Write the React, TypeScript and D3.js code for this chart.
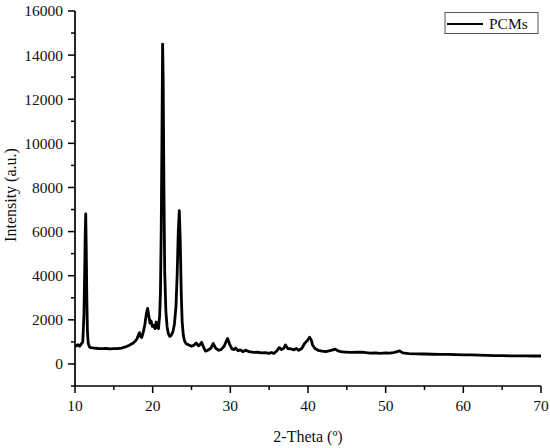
import React from "react";
import * as d3 from "d3";

const theta = [10.0,10.2,10.4,10.6,10.8,11.0,11.15,11.25,11.32,11.38,11.45,11.52,11.6,11.7,11.85,12.0,12.5,13.0,13.5,14.0,14.5,15.0,15.5,16.0,16.5,17.0,17.5,17.8,18.0,18.2,18.3,18.45,18.6,18.8,19.0,19.2,19.35,19.5,19.65,19.8,19.95,20.1,20.3,20.45,20.6,20.75,20.9,21.0,21.1,21.2,21.28,21.35,21.45,21.55,21.7,21.85,22.0,22.2,22.4,22.6,22.8,23.0,23.15,23.3,23.43,23.55,23.68,23.8,23.95,24.1,24.3,24.6,25.0,25.3,25.6,25.9,26.1,26.3,26.5,26.8,27.1,27.5,27.8,28.1,28.5,28.8,29.2,29.5,29.65,29.9,30.2,30.5,30.7,31.0,31.3,31.6,32.0,32.4,33.0,33.5,34.0,34.5,35.0,35.3,35.6,36.0,36.3,36.6,36.9,37.1,37.4,37.8,38.2,38.5,38.8,39.2,39.6,39.9,40.2,40.4,40.6,40.9,41.3,41.8,42.3,42.8,43.2,43.5,43.8,44.2,44.8,45.5,46.3,47.0,47.5,48.0,48.7,49.3,50.0,50.5,51.0,51.5,51.8,52.2,53.0,54.0,55.0,56.0,57.0,58.0,59.0,60.0,61.0,62.0,63.0,64.0,65.0,66.0,67.0,68.0,69.0,70.0];
const intensity = [850,820,870,800,900,1000,2200,4200,6000,6800,5200,3000,1500,950,780,740,720,700,690,700,680,690,700,720,770,850,950,1050,1150,1350,1420,1250,1200,1450,1800,2300,2520,2200,1850,1950,1700,1750,1600,1900,1650,1600,2200,3200,6000,10500,14500,13000,8000,4200,2400,1700,1400,1250,1300,1450,1800,2600,4000,6000,6950,5600,3200,1900,1300,1050,920,870,800,850,950,820,880,980,800,580,620,720,930,720,620,650,800,1050,1150,900,680,650,720,600,640,560,620,560,520,530,500,510,480,520,470,600,740,650,720,860,700,680,640,700,620,700,950,1050,1210,1100,850,700,620,580,560,600,640,670,600,560,540,520,530,540,510,490,500,480,500,490,510,560,590,500,470,460,450,440,430,430,420,410,410,400,390,380,375,370,365,370,360,360];

const xTicks = [10, 20, 30, 40, 50, 60, 70];
const xMinorTicks = [15, 25, 35, 45, 55, 65];
const yTicks = [0, 2000, 4000, 6000, 8000, 10000, 12000, 14000, 16000];
const yMinorTicks = [-1000, 1000, 3000, 5000, 7000, 9000, 11000, 13000, 15000];
const seriesName = "PCMs";
const xLabel = "2-Theta (º)";
const yLabel = "Intensity (a.u.)";

export default function App() {
  const x = d3.scaleLinear().domain([10, 70]).range([75, 541]);
  const y = d3.scaleLinear().domain([-1000, 16000]).range([386, 11]);
  const pts = theta.map((t, i) => [t, intensity[i]] as [number, number]);
  const line = d3.line<[number, number]>().x(d => x(d[0])).y(d => y(d[1])).curve(d3.curveLinear);
  const ts: React.CSSProperties = { fontFamily: "'Liberation Serif', 'Times New Roman', Times, serif" };
  const x0 = x(10);
  const yb = y(-1000);
  return (
    <svg width={550} height={448} style={{ position: "absolute", left: 0, top: 0, background: "#fff" }}>
      <rect width={550} height={448} fill="#fff" />
      <path d={line(pts) || ""} fill="none" stroke="#000" strokeWidth={2.8} strokeLinejoin="round" />
      <line x1={x0} x2={x0} y1={y(16000)} y2={yb} stroke="#000" strokeWidth={1.7} />
      <line x1={x0} x2={x(70)} y1={yb} y2={yb} stroke="#000" strokeWidth={1.7} />
      {yTicks.map(v => (
        <g key={"y" + v}>
          <line x1={x0 - 7} x2={x0} y1={y(v)} y2={y(v)} stroke="#000" strokeWidth={1.5} />
          <text x={x0 - 12} y={y(v)} dy="0.35em" textAnchor="end" fontSize={15.5} fill="#111" style={ts}>{v}</text>
        </g>
      ))}
      {yMinorTicks.map(v => (
        <line key={"ym" + v} x1={x0 - 4} x2={x0} y1={y(v)} y2={y(v)} stroke="#000" strokeWidth={1.5} />
      ))}
      {xTicks.map(v => (
        <g key={"x" + v}>
          <line x1={x(v)} x2={x(v)} y1={yb} y2={yb + 7} stroke="#000" strokeWidth={1.5} />
          <text x={x(v)} y={yb + 25} textAnchor="middle" fontSize={15.5} fill="#111" style={ts}>{v}</text>
        </g>
      ))}
      {xMinorTicks.map(v => (
        <line key={"xm" + v} x1={x(v)} x2={x(v)} y1={yb} y2={yb + 4} stroke="#000" strokeWidth={1.5} />
      ))}
      <text x={308} y={441.5} textAnchor="middle" fontSize={16} fill="#111" style={ts}>{xLabel}</text>
      <text transform="translate(16,195) rotate(-90)" textAnchor="middle" fontSize={16} fill="#111" style={ts}>{yLabel}</text>
      <rect x={445} y={12.5} width={93} height={21} fill="#fff" stroke="#555" strokeWidth={1} />
      <line x1={447} x2={483} y1={24} y2={24} stroke="#000" strokeWidth={2.2} />
      <text x={489} y={29} fontSize={15.5} fill="#111" style={ts}>{seriesName}</text>
    </svg>
  );
}
